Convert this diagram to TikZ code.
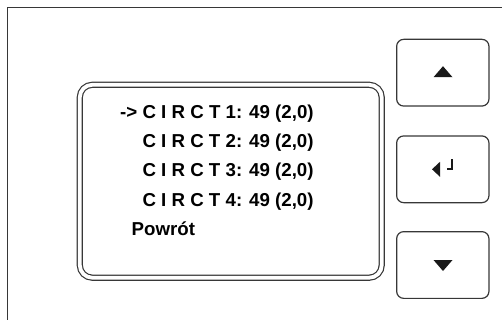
\documentclass[tikz,border=0pt]{standalone}
\usepackage{fontspec}
\setmainfont{Liberation Sans}
\usepackage{tikz}
\usetikzlibrary{positioning}
\definecolor{panelgray}{RGB}{55,55,55}
\tikzset{
  screen/.style={draw=panelgray, line width=1.2pt, double, double distance=3.8pt,
    rounded corners=12.5pt, minimum width=301.9pt, minimum height=192.9pt, inner sep=0pt},
  keybox/.style={draw=panelgray, line width=1.2pt, rounded corners=7pt,
    minimum width=92.3pt, minimum height=66.7pt, inner sep=0pt},
  menuline/.style={anchor=base west, inner sep=0pt, text=black,
    font=\fontsize{18.7}{22}\selectfont\bfseries},
  glyph/.style={fill=black!90, draw=none}
}
\begin{document}
\begin{tikzpicture}[x=1pt, y=-1pt]
        \useasboundingbox (0,0) rectangle (502,320);
        % panel frame
        \draw[panelgray, line width=1pt] (7,320) |- (502,7.5);
        % display
        \node[screen] (display) at (230.75,181.25) {};
        \node[menuline] (row1) at (120,118.3) {-> C I R C T 1: 49 (2,0)};
        \node[menuline] (row2) at (142.3,147.7) {C I R C T 2: 49 (2,0)};
        \node[menuline] (row3) at (142.3,176.7) {C I R C T 3: 49 (2,0)};
        \node[menuline] (row4) at (142.3,206.2) {C I R C T 4: 49 (2,0)};
        \node[menuline] (back) at (131.5,235) {Powrót};
        % keys
        \node[keybox] (keyup) at (442.8,72.7) {};
        \node[keybox] (keyenter) at (442.8,169.3) {};
        \node[keybox] (keydown) at (442.8,265) {};
        \fill[glyph] ([shift={(0.2,-6.5)}]keyup.center) -- ++(9.5,11) -- ++(-19,0) -- cycle;
        \fill[glyph] ([shift={(0.2,6)}]keydown.center) -- ++(9.5,-11) -- ++(-19,0) -- cycle;
        \fill[glyph] ([shift={(-10.8,0)}]keyenter.center) -- ++(8,7.5) -- ++(0,-15) -- cycle;
        \draw[black!90, line width=1.6pt] ([shift={(4.2,0)}]keyenter.center) -- ++(5,0) -- ++(0,-10);
    \end{tikzpicture}
\end{document}
